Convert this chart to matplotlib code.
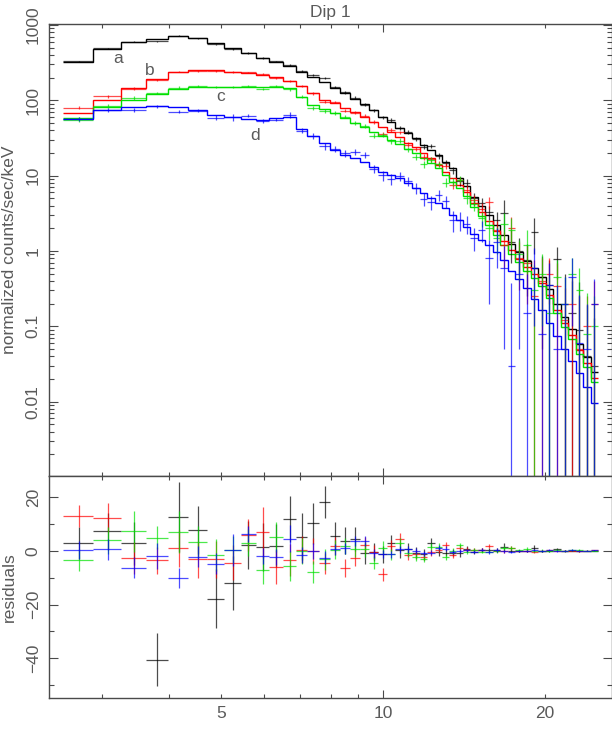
import numpy as np
import matplotlib
matplotlib.use("Agg")
import matplotlib.pyplot as plt
from matplotlib.ticker import FixedLocator, FuncFormatter, NullFormatter, LogLocator

# ---------------- data ----------------
edges = [2.540, 2.895, 3.260, 3.627, 3.990, 4.347, 4.703, 5.064, 5.440, 5.800,
         6.148, 6.511, 6.893, 7.234, 7.615, 7.971, 8.320, 8.684, 9.064, 9.431,
         9.802, 10.16, 10.53, 10.94, 11.34, 11.72, 12.09, 12.49, 12.89, 13.26,
         13.67, 14.07, 14.52, 15.0, 15.5, 16.0, 16.5, 17.05, 17.6, 18.2,
         18.8, 19.4, 20.05, 20.7, 21.4, 22.1, 22.8, 23.55, 24.3, 25.05]

model_a = [326, 480, 600, 652, 708, 661, 571, 490, 421, 361, 326, 286, 240, 206, 177,
           146, 124, 104, 88.5, 74.3, 60.5, 52.0, 42.5, 37.2, 31.3, 25.5, 21.9, 18.8,
           15.3, 12.5, 9.3, 7.2, 5.25, 3.98, 3.02, 2.19, 1.62, 1.23, 0.955, 0.741,
           0.589, 0.457, 0.316, 0.200, 0.132, 0.091, 0.0575, 0.0389, 0.0245]
model_b = [67, 101, 145, 190, 240, 251, 251, 240, 228, 217, 204, 182, 155, 124, 100,
           93, 79.4, 70.8, 60.3, 52.0, 44.7, 38.3, 32.9, 27.4, 23.8, 19.8, 17.0, 13.8,
           11.3, 9.2, 7.5, 6.03, 4.37, 3.31, 2.51, 1.82, 1.35, 1.02, 0.794, 0.617,
           0.490, 0.380, 0.263, 0.166, 0.110, 0.0759, 0.0479, 0.0324, 0.0204]
model_c = [58.9, 80.7, 100, 121, 140, 151, 151, 151, 151, 148, 151, 145, 112, 87.1, 75.9,
           67.6, 58.9, 50.1, 44.7, 38.3, 33.6, 29.7, 26.3, 22.9, 19.8, 17.0, 14.6, 12.5,
           10.2, 8.3, 6.76, 5.37, 3.89, 2.95, 2.24, 1.62, 1.20, 0.912, 0.708, 0.550,
           0.437, 0.339, 0.234, 0.148, 0.0977, 0.0676, 0.0427, 0.0288, 0.0182]
model_d = [56.5, 74.3, 80.7, 85.1, 80.7, 75.0, 63.8, 59.4, 56.0, 54.7, 57.5, 59.4, 41.2,
           33.6, 26.9, 22.1, 18.8, 17.0, 15.3, 13.2, 11.3, 10.2, 9.2, 7.9, 6.76, 5.82,
           5.01, 4.29, 3.68, 3.0, 2.57, 2.09, 1.70, 1.41, 1.20, 0.955, 0.759, 0.550,
           0.427, 0.324, 0.229, 0.166, 0.110, 0.0741, 0.0501, 0.0347, 0.0240, 0.0155,
           0.00955]

data_a = [329.1, 487.3, 602.8, 611.4, 720.8, 668.8, 553.1, 478.1, 423.1, 362.5, 327.9,
          297.9, 245.4, 216.3, 195.4, 151.6, 127.8, 108.4, 87.6, 73.9, 59.3, 55.1, 42.7,
          37.8, 30.7, 24.3, 24.8, 18.4, 14.7, 11.9, 8.4, 7.9, 5.0, 4.3, 3.3, 2.6, 3.2,
          1.3, 1.0, 0.75, 1.8, 0.45, 0.35, 0.78, 0.2, 0.15, 0.09, 0.04, 0.03]
data_b = [80.1, 113.5, 142.3, 186.5, 241, 247.9, 247.9, 235.6, 234, 223.9, 198.1, 178.5,
          155.5, 124, 95.4, 94.9, 72.9, 68.3, 62.4, 51.6, 35.95, 40.2, 37.5, 25.8, 22.55,
          17.7, 16.6, 14.2, 13.4, 7.6, 8.75, 6.5, 4.8, 3.6, 4.4, 1.9, 1.2, 2.0, 0.8, 0.7,
          0.25, 0.4, 0.5, 0.34, 0.12, 0.2, 0.05, 0.1, 0.2]
data_c = [55.5, 84.7, 107.3, 126, 147.1, 154.5, 149.4, 151.5, 154.1, 140.9, 156.4, 139.4,
          112, 79.2, 72.8, 68.1, 60.8, 50.7, 45.3, 33.9, 34.85, 28.45, 29.2, 22.3, 17.7,
          14.1, 16.2, 14.1, 8.1, 8.3, 8.86, 5.0, 4.2, 2.7, 2.0, 1.5, 2.3, 1.9, 0.9, 1.2,
          0.3, 0.5, 0.15, 0.45, 0.2, 0.5, 0.3, 0.08, 0.1]
data_d = [56.9, 74.9, 74.5, 83.2, 70.7, 72.9, 59.05, 59.8, 62.5, 52.8, 55.4, 64.0, 39.6,
          33.6, 24.4, 22.7, 19.8, 20.75, 19.05, 12.3, 10.05, 8.95, 9.8, 8.5, 6.76, 4.92,
          4.41, 5.54, 4.58, 2.6, 2.57, 2.3, 1.5, 1.9, 0.8, 1.3, 0.6, 0.03, 0.5, 0.15, 0.6,
          0.08, 0.35, 0.05, 0.2, 0.45, 0.06, 0.05, 0.2]

err_a = [6, 7, 8, 10, 13, 9, 11, 10, 9, 9, 8, 8.6, 8.7, 7.8, 6, 5.3, 5, 4.5, 4, 3.5, 3.2,
         3, 2.7, 2.4, 2.2, 2, 1.8, 1.6, 1.4, 1.3, 1.2, 1.0, 0.9, 0.8, 0.7, 0.7, 1.5, 0.6,
         0.5, 0.5, 0.9, 0.4, 0.4, 0.35, 0.3, 0.25, 0.3, 0.15, 0.1]
err_b = [4, 5.4, 6, 5, 7, 7, 7, 6.5, 6, 9.5, 6.25, 6, 5, 5, 4, 3.5, 3.4, 3, 3, 2.5, 2.5,
         2.2, 2, 1.8, 1.6, 1.4, 1.3, 1.2, 1.1, 1.0, 0.9, 0.9, 0.8, 0.7, 0.8, 0.6, 0.6, 0.8,
         0.5, 0.5, 0.5, 0.4, 0.3, 0.35, 0.2, 0.25, 0.2, 0.15, 0.2]
err_c = [4, 5, 7.8, 4.4, 7.8, 6, 6, 5, 5, 5.3, 5.6, 5.6, 5, 4, 4, 3.5, 3, 3, 2.8, 2.5,
         2.3, 2.1, 1.9, 1.7, 1.5, 1.4, 1.3, 1.2, 1.1, 1.0, 0.9, 0.8, 0.8, 0.6, 0.6, 0.6,
         0.9, 0.8, 0.5, 0.7, 0.35, 0.4, 0.3, 0.3, 0.25, 0.3, 0.3, 0.2, 0.15]
err_d = [3.5, 4, 4, 4.7, 3.75, 4, 4, 6, 3, 3, 3, 5, 3, 3, 2.5, 2, 2, 1.9, 1.8, 1.6, 1.5,
         1.4, 1.3, 1.2, 1.1, 1.0, 0.95, 0.9, 0.85, 0.8, 0.75, 0.6, 0.5, 0.6, 0.6, 0.7,
         0.55, 0.35, 0.45, 0.35, 0.5, 0.3, 0.35, 0.3, 0.25, 0.35, 0.2, 0.15, 0.22]

series_labels = ["a", "b", "c", "d"]
label_pos = [(3.22, 361), (3.69, 252), (4.99, 112), (5.78, 33.6)]
colors = ["#000000", "#ff0000", "#00e000", "#0000ff"]

title = "Dip 1"
ylabel_top = "normalized counts/sec/keV"
ylabel_bot = "residuals"
xtick_vals = [5, 10, 20]

# ---------------- plotting ----------------
W, H = 612, 740
fig = plt.figure(figsize=(W / 100, H / 100), dpi=100)
TXT = "#5a5a5a"
AX = "#4a4a4a"
plt.rcParams['font.family'] = ['Liberation Sans', 'DejaVu Sans']
FS = 12.5

x0, x1 = 49, 611.7
axt = fig.add_axes([x0 / W, 1 - 476 / H, (x1 - x0) / W, (476 - 24.3) / H])
axb = fig.add_axes([x0 / W, 1 - 697.7 / H, (x1 - x0) / W, (697.7 - 476) / H], sharex=axt)

e = np.array(edges)
lo, hi = e[:-1], e[1:]
cen = (lo + hi) / 2
xerr = [cen - lo, hi - cen]

models = [model_a, model_b, model_c, model_d]
datas = [data_a, data_b, data_c, data_d]
errs = [err_a, err_b, err_c, err_d]

for m, d, er, col in zip(models, datas, errs, colors):
    m = np.array(m, float); d = np.array(d, float); er = np.array(er, float)
    lower = np.minimum(er, d - 1e-6)
    axt.errorbar(cen, d, xerr=xerr, yerr=[lower, er], fmt='none', ecolor=col,
                 elinewidth=0.9, capsize=0, alpha=0.7)
    axt.stairs(m, e, color=col, lw=1.0, baseline=None)
    axb.errorbar(cen, d - m, xerr=xerr, yerr=er, fmt='none', ecolor=col,
                 elinewidth=0.9, capsize=0, alpha=0.7)

for lab, (lx, ly) in zip(series_labels, label_pos):
    axt.text(lx, ly, lab, color=TXT, fontsize=FS, ha='center', va='center')

for ax in (axt, axb):
    ax.set_xscale('log')
    ax.set_xlim(2.395, 26.6)
    for s in ax.spines.values():
        s.set_color(AX); s.set_linewidth(1.0)
    ax.tick_params(which='both', direction='in', top=True, right=True,
                   color=AX, width=0.8, labelcolor=TXT, labelsize=FS)
    ax.xaxis.set_major_locator(FixedLocator([10]))
    ax.xaxis.set_minor_locator(FixedLocator([3, 4, 5, 6, 7, 8, 9, 20]))
    ax.tick_params(axis='x', which='major', length=5.5)
    ax.tick_params(axis='x', which='minor', length=3)

axt.set_yscale('log')
axt.set_ylim(0.00103, 1020)
axt.yaxis.set_major_locator(LogLocator(base=10, numticks=20))
axt.yaxis.set_minor_locator(LogLocator(base=10, subs=np.arange(2, 10), numticks=20))
axt.yaxis.set_major_formatter(FuncFormatter(lambda v, p: '%g' % v))
axt.yaxis.set_minor_formatter(NullFormatter())
axt.tick_params(axis='y', which='major', length=6.5, pad=6, labelrotation=90)
axt.tick_params(axis='y', which='minor', length=3.4)
axt.tick_params(axis='x', which='both', labelbottom=False)

axb.set_ylim(-54.8, 28)
axb.yaxis.set_major_locator(FixedLocator([-40, -20, 0, 20]))
axb.yaxis.set_minor_locator(FixedLocator([-50, -30, -10, 10]))
axb.yaxis.set_major_formatter(FuncFormatter(lambda v, p: '%d' % v if v >= 0 else '\u2212%d' % -v))
axb.tick_params(axis='y', which='major', length=6.5, pad=6, labelrotation=90)
axb.tick_params(axis='y', which='minor', length=3.4)
axb.xaxis.set_major_formatter(FuncFormatter(lambda v, p: '%g' % v))
axb.xaxis.set_minor_formatter(FuncFormatter(lambda v, p: ('%g' % v) if round(v) in xtick_vals else ''))
axb.tick_params(axis='x', which='both', pad=6)

for ax in (axt, axb):
    for t in ax.get_yticklabels():
        t.set_va('center')

axt.set_title(title, color=TXT, fontsize=FS, pad=5)
axt.set_ylabel(ylabel_top, color=TXT, fontsize=FS)
axb.set_ylabel(ylabel_bot, color=TXT, fontsize=FS)
lab_x = -(x0 - 17) / (x1 - x0)
axt.yaxis.set_label_coords(lab_x, 0.5)
axb.yaxis.set_label_coords(lab_x, 0.5)

fig.savefig("out.png", dpi=100)
